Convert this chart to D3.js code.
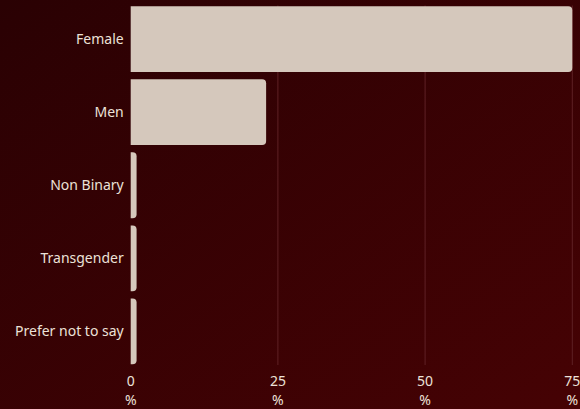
<!DOCTYPE html>
<html>
<head>
<meta charset="utf-8">
<script src="https://cdn.jsdelivr.net/npm/d3@7"></script>
<style>
  html, body { margin: 0; padding: 0; background: #300103; }
  svg { display: block; }
  text { font-family: "Noto Sans", sans-serif; }
</style>
</head>
<body>
<div id="chart"></div>
<script>
// Gender breakdown of respondents (percent)
const categories = ["Female", "Men", "Non Binary", "Transgender", "Prefer not to say"];
const values = [75, 23, 1, 1, 1];
const tickValues = [0, 25, 50, 75];

const width = 580, height = 409;
const margin = { top: 2.5, right: 8, bottom: 41, left: 130.7 };

const svg = d3.select("#chart").append("svg")
  .attr("width", width)
  .attr("height", height);

// background gradient
const defs = svg.append("defs");
const grad = defs.append("linearGradient")
  .attr("id", "bg")
  .attr("x1", "0%").attr("y1", "0%")
  .attr("x2", "100%").attr("y2", "100%");
grad.append("stop").attr("offset", "0%").attr("stop-color", "#2a0103");
grad.append("stop").attr("offset", "100%").attr("stop-color", "#460204");
svg.append("rect").attr("width", width).attr("height", height).attr("fill", "url(#bg)");

const x = d3.scaleLinear()
  .domain([0, 75])
  .range([margin.left, 572.3]);

const y = d3.scaleBand()
  .domain(categories)
  .range([margin.top, height - margin.bottom])
  .paddingInner(0.1)
  .paddingOuter(0.05);

// vertical grid lines
svg.append("g")
  .selectAll("line")
  .data(tickValues.filter(d => d > 0))
  .join("line")
  .attr("x1", d => x(d)).attr("x2", d => x(d))
  .attr("y1", margin.top + 3)
  .attr("y2", height - margin.bottom - 3)
  .attr("stroke", "#5e2125")
  .attr("stroke-width", 1);

// bars, rounded only at the value end
const r = 4;
function barPath(d, i) {
  const x0 = x(0), x1 = x(values[i]);
  const y0 = y(d), h = y.bandwidth();
  const rr = Math.min(r, (x1 - x0));
  return `M${x0},${y0}` +
    `H${x1 - rr}` +
    `Q${x1},${y0} ${x1},${y0 + rr}` +
    `V${y0 + h - rr}` +
    `Q${x1},${y0 + h} ${x1 - rr},${y0 + h}` +
    `H${x0}Z`;
}
svg.append("g")
  .selectAll("path")
  .data(categories)
  .join("path")
  .attr("d", (d, i) => barPath(d, i))
  .attr("fill", "#d5c8bc");

// category labels
const yAxis = d3.axisLeft(y).tickSize(0).tickPadding(7);
const gy = svg.append("g")
  .attr("transform", `translate(${x(0)},0)`)
  .call(yAxis);
gy.select(".domain").remove();
gy.selectAll("text")
  .attr("fill", "#ece1d8")
  .style("font-size", "14px")
  .style("font-family", "\"Noto Sans\", sans-serif");

// value axis: number with % beneath
const gx = svg.append("g")
  .attr("transform", `translate(0,${height - margin.bottom})`);
const ticks = gx.selectAll("g")
  .data(tickValues)
  .join("g")
  .attr("transform", d => `translate(${x(d)},0)`);
ticks.append("text")
  .attr("y", 18)
  .attr("text-anchor", "middle")
  .attr("fill", "#ece1d8")
  .style("font-size", "14px")
  .text(d => d);
ticks.append("text")
  .attr("y", 37)
  .attr("text-anchor", "middle")
  .attr("fill", "#ece1d8")
  .style("font-size", "14px")
  .text("%");
</script>
</body>
</html>
